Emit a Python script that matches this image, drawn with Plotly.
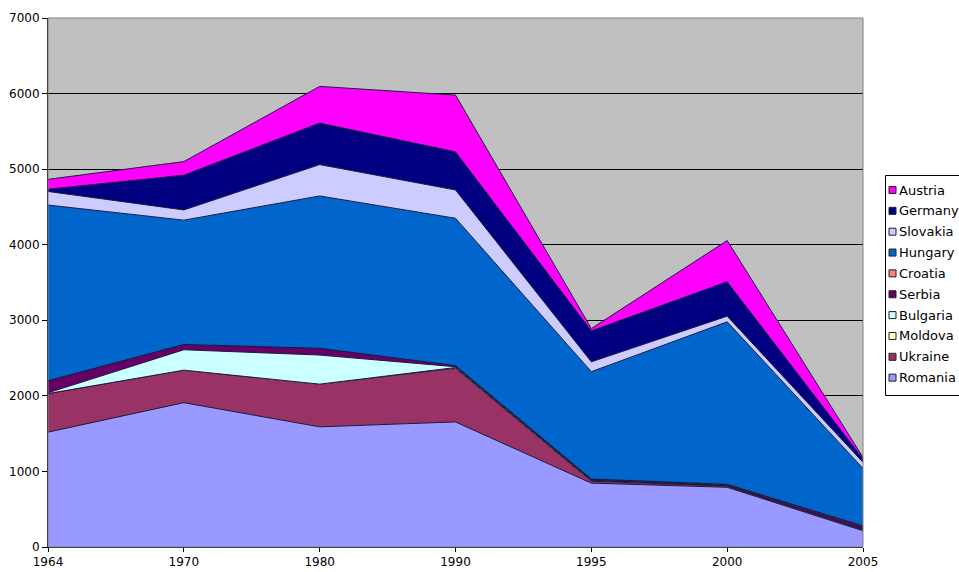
import plotly.graph_objects as go

years = ["1964", "1970", "1980", "1990", "1995", "2000", "2005"]

romania  = [1520, 1910, 1590, 1655, 845, 790, 215]
ukraine  = [510, 430, 565, 710, 25, 15, 15]
moldova  = [0, 0, 0, 10, 10, 5, 5]
bulgaria = [10, 270, 385, 10, 5, 0, 5]
serbia   = [160, 70, 90, 15, 10, 15, 30]
croatia  = [0, 0, 0, 0, 5, 5, 10]
hungary  = [2325, 1645, 2015, 1950, 1420, 2150, 760]
slovakia = [180, 135, 415, 375, 130, 75, 80]
germany  = [30, 460, 550, 505, 410, 455, 45]
austria  = [130, 180, 485, 750, 30, 545, 20]

series = [
    ("Romania", romania, "#9999FF"),
    ("Ukraine", ukraine, "#993366"),
    ("Moldova", moldova, "#FFFFCC"),
    ("Bulgaria", bulgaria, "#CCFFFF"),
    ("Serbia", serbia, "#660066"),
    ("Croatia", croatia, "#FF8080"),
    ("Hungary", hungary, "#0066CC"),
    ("Slovakia", slovakia, "#CCCCFF"),
    ("Germany", germany, "#000080"),
    ("Austria", austria, "#FF00FF"),
]

W, H = 959, 572
ML, MR, MT, MB = 48, 96, 18, 25
PW, PH = W - ML - MR, H - MT - MB
FONT = "DejaVu Sans, Verdana, sans-serif"

def px_x(p):
    return (p - ML) / PW

def px_y(p):
    return (H - MB - p) / PH

fig = go.Figure()
for name, vals, col in series:
    fig.add_trace(go.Scatter(
        x=years, y=vals, name=name, mode="lines",
        stackgroup="one", fillcolor=col,
        line=dict(color="#1a1a40", width=1),
        hoverinfo="skip", showlegend=False,
    ))

fig.update_layout(
    width=W, height=H,
    margin=dict(l=ML, r=MR, t=MT, b=MB, autoexpand=False),
    paper_bgcolor="white",
    plot_bgcolor="#C0C0C0",
    font=dict(family=FONT, size=12, color="black"),
    showlegend=False,
    xaxis=dict(
        type="category", range=[0, 6],
        showgrid=False, showline=True, linecolor="black", linewidth=1,
        ticks="outside", ticklen=4, tickcolor="black",
        mirror=False, zeroline=False, automargin=False,
        tickfont=dict(family=FONT, size=12),
    ),
    yaxis=dict(
        range=[0, 7000], dtick=1000,
        showgrid=True, gridcolor="black", gridwidth=1,
        showline=True, linecolor="black", linewidth=1,
        ticks="outside", ticklen=5, tickcolor="black",
        zeroline=False, automargin=False,
        tickfont=dict(family=FONT, size=12),
    ),
)
fig.add_shape(type="rect", xref="paper", yref="paper", x0=0, y0=0, x1=1, y1=1,
              line=dict(color="#808080", width=1), layer="above")

# legend box (drawn by hand to match the compact legend)
fig.add_shape(type="rect", xref="paper", yref="paper",
              x0=px_x(885.5), x1=px_x(960), y0=px_y(395.5), y1=px_y(175.5),
              line=dict(color="black", width=1), fillcolor="white", layer="above")
top_y, step = 190.0, 20.85
for i, (name, vals, col) in enumerate(reversed(series)):
    cy = top_y + i * step
    fig.add_shape(type="rect", xref="paper", yref="paper",
                  x0=px_x(889), x1=px_x(896), y0=px_y(cy + 3.5), y1=px_y(cy - 3.5),
                  line=dict(color="#222222", width=1), fillcolor=col, layer="above")
    fig.add_annotation(text=name, xref="paper", yref="paper",
                       x=px_x(896.5), y=px_y(cy), xanchor="left", yanchor="middle",
                       showarrow=False, font=dict(family=FONT, size=13, color="black"))

fig.write_html("out.html",
               config={"displayModeBar": False, "staticPlot": True},
               post_script="document.body.style.margin='0';document.body.style.overflow='hidden';")
